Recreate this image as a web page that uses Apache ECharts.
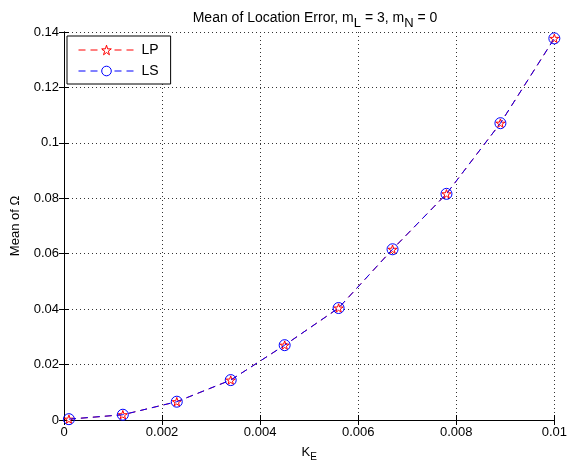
<!DOCTYPE html>
<html>
<head>
<meta charset="utf-8">
<script src="https://cdn.jsdelivr.net/npm/echarts@6/dist/echarts.min.js"></script>
<style>
  html, body { margin: 0; padding: 0; background: #fff; }
  #chart { width: 570px; height: 470px; }
</style>
</head>
<body>
<div id="chart"></div>
<script>
// K_E values and mean of Omega for both methods
var kE = [0.0001, 0.0012, 0.0023, 0.0034, 0.0045, 0.0056, 0.0067, 0.0078, 0.0089, 0.01];
var lpMean = [0.0003, 0.0019, 0.0066, 0.0144, 0.0270, 0.0404, 0.0616, 0.0816, 0.1071, 0.1377];
var lsMean = [0.0003, 0.0019, 0.0066, 0.0144, 0.0270, 0.0404, 0.0616, 0.0816, 0.1071, 0.1377];
var seriesNames = ['LP', 'LS'];

function pairs(xs, ys) {
    return xs.map(function (x, i) { return [x, ys[i]]; });
}

var star = 'path://M0 -1 L0.2245 -0.309 L0.951 -0.309 L0.363 0.118 L0.588 0.809 L0 0.382 L-0.588 0.809 L-0.363 0.118 L-0.951 -0.309 L-0.2245 -0.309 Z';
var font = 'Liberation Sans, Arial, Helvetica, sans-serif';
var dash = [7, 5];

var chart = echarts.init(document.getElementById('chart'));

// dotted grid + inward ticks like matlab
var tickStyle = { show: true, inside: true, length: 5, lineStyle: { color: '#000' } };
var gridLine = { show: true, lineStyle: { color: '#333', type: [1, 3], width: 1 } };

var option = {
    animation: false,
    backgroundColor: '#fff',
    title: {
        text: 'Mean of Location Error, m{s|L} = 3, m{s|N} = 0',
        left: 310,
        textAlign: 'center',
        top: 2,
        textStyle: {
            fontFamily: font, fontSize: 14, fontWeight: 'normal', color: '#000',
            rich: { s: { fontFamily: font, fontSize: 13, verticalAlign: 'bottom', padding: [10, 0, 0, 0], color: '#000' } }
        }
    },
    legend: {
        orient: 'vertical',
        left: 67,
        top: 36,
        data: [{
            name: seriesNames[0],
            itemStyle: { color: '#fff', borderColor: '#ff0000', borderWidth: 1 },
            lineStyle: { color: '#ff0000', width: 1, type: dash }
        }, {
            name: seriesNames[1],
            itemStyle: { color: '#fff', borderColor: '#0000ff', borderWidth: 1 },
            lineStyle: { color: '#0000ff', width: 1, type: dash }
        }],
        itemWidth: 56,
        itemHeight: 12,
        itemGap: 7,
        padding: [7, 12, 6, 11],
        backgroundColor: '#fff',
        borderColor: '#000',
        borderWidth: 1,
        borderRadius: 0,
        textStyle: { fontFamily: font, fontSize: 14, color: '#000', padding: [0, 0, 0, 2] }
    },
    grid: { left: 64, right: 14, top: 32, bottom: 50, containLabel: false },
    xAxis: [{
        type: 'value', min: 0, max: 0.01, interval: 0.002,
        name: '{m|K}{s|E}', nameLocation: 'middle', nameGap: 22,
        nameTextStyle: {
            rich: {
                m: { fontFamily: font, fontSize: 13, color: '#000' },
                s: { fontFamily: font, fontSize: 10, color: '#000', verticalAlign: 'bottom', padding: [10, 0, 0, 0] }
            }
        },
        axisLine: { show: true, lineStyle: { color: '#000', width: 1 } },
        axisTick: tickStyle,
        axisLabel: { fontFamily: font, fontSize: 13, color: '#000', margin: 6 },
        splitLine: gridLine
    }, {
        type: 'value', min: 0, max: 0.01, interval: 0.002, position: 'top',
        axisLine: { show: true, lineStyle: { color: '#000', width: 1 } },
        axisTick: tickStyle,
        axisLabel: { show: false },
        splitLine: { show: false }
    }],
    yAxis: [{
        type: 'value', min: 0, max: 0.14, interval: 0.02,
        name: 'Mean of Ω', nameLocation: 'middle', nameGap: 42,
        nameTextStyle: { fontFamily: font, fontSize: 13, color: '#000' },
        axisLine: { show: true, lineStyle: { color: '#000', width: 1 } },
        axisTick: tickStyle,
        axisLabel: { fontFamily: font, fontSize: 13, color: '#000', margin: 5 },
        splitLine: gridLine
    }, {
        type: 'value', min: 0, max: 0.14, interval: 0.02, position: 'right',
        axisLine: { show: true, lineStyle: { color: '#000', width: 1 } },
        axisTick: tickStyle,
        axisLabel: { show: false },
        splitLine: { show: false }
    }],
    series: [{
        name: seriesNames[0],
        type: 'line',
        data: pairs(kE, lpMean),
        symbol: star,
        symbolSize: 9,
        symbolKeepAspect: true,
        showAllSymbol: true,
        color: '#ff0000',
        lineStyle: { color: '#ff0000', width: 1, type: dash },
        itemStyle: { color: '#ffffff', borderColor: '#ff0000', borderWidth: 1 },
        z: 2
    }, {
        name: seriesNames[1],
        type: 'line',
        data: pairs(kE, lsMean),
        symbol: 'circle',
        symbolSize: 11,
        showAllSymbol: true,
        color: '#0000ff',
        lineStyle: { color: '#0000ff', width: 1, type: dash },
        itemStyle: { color: 'rgba(0,0,0,0)', borderColor: '#0000ff', borderWidth: 1 },
        z: 3
    }]
};

chart.setOption(option);
</script>
</body>
</html>
